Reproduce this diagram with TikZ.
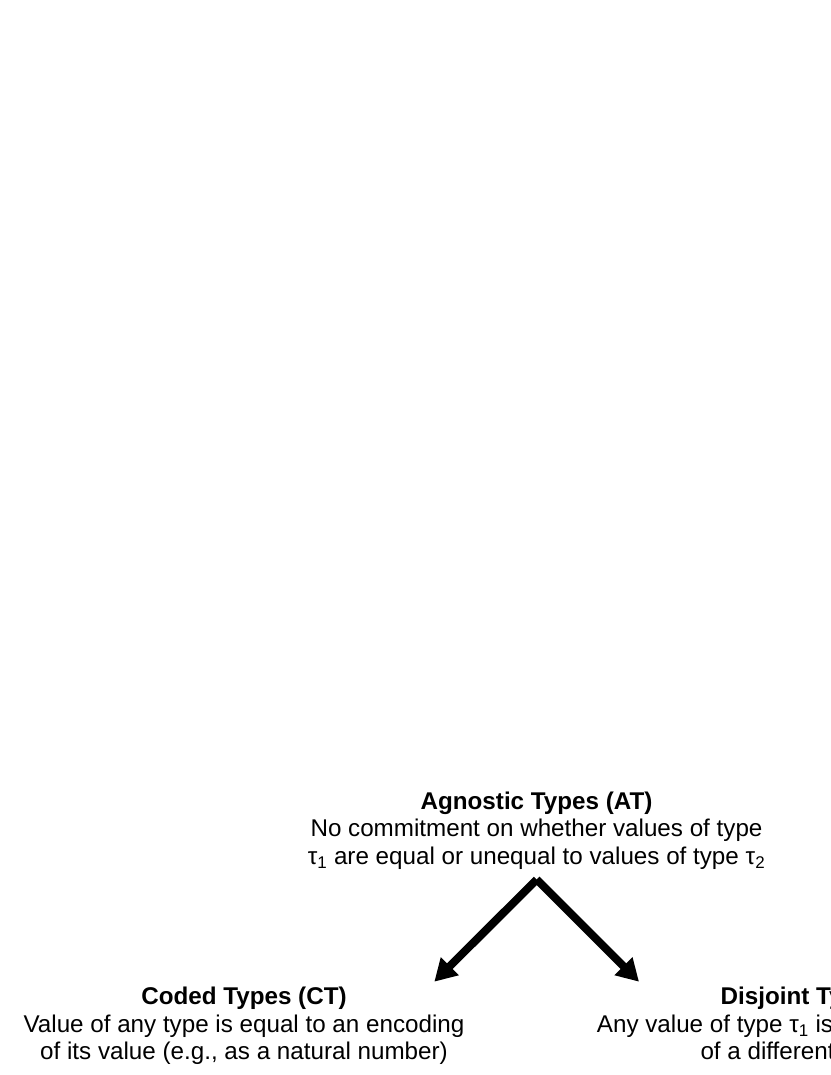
\documentclass[tikz,border=0pt]{standalone}
\usepackage{fontspec}
\setmainfont{Liberation Sans}
\usetikzlibrary{arrows.meta}
\begin{document}
\begin{tikzpicture}[x=1pt, y=-1pt,
  typebox/.style={align=center, inner sep=0pt, anchor=north, font=\fontsize{24.2}{27.6}\selectfont},
  typearrow/.style={line width=8pt, -{Triangle[length=22pt, width=24pt]}}]
\useasboundingbox (0,0) rectangle (830,1075);
\node[typebox] (at) at (536.5,791.5) {\textbf{Agnostic Types (AT)}\\No commitment on whether values of type\\τ\textsubscript{1} are equal or unequal to values of type τ\textsubscript{2}};
\node[typebox] (ct) at (244,987) {\textbf{Coded Types (CT)}\\Value of any type is equal to an encoding\\of its value (e.g., as a natural number)};
\node[typebox] (dt) at (830,987) {\textbf{Disjoint Types (DT)}\\Any value of type τ\textsubscript{1} is unequal to any value\\of a different type τ\textsubscript{2} ≠ τ\textsubscript{1}};
\coordinate (fork) at (536.7,879.5);
\coordinate (ctin) at (434.3,981.7);
\coordinate (dtin) at (639,981.7);
\draw[typearrow] (fork) -- (ctin);
\draw[typearrow] (fork) -- (dtin);
\end{tikzpicture}
\end{document}
